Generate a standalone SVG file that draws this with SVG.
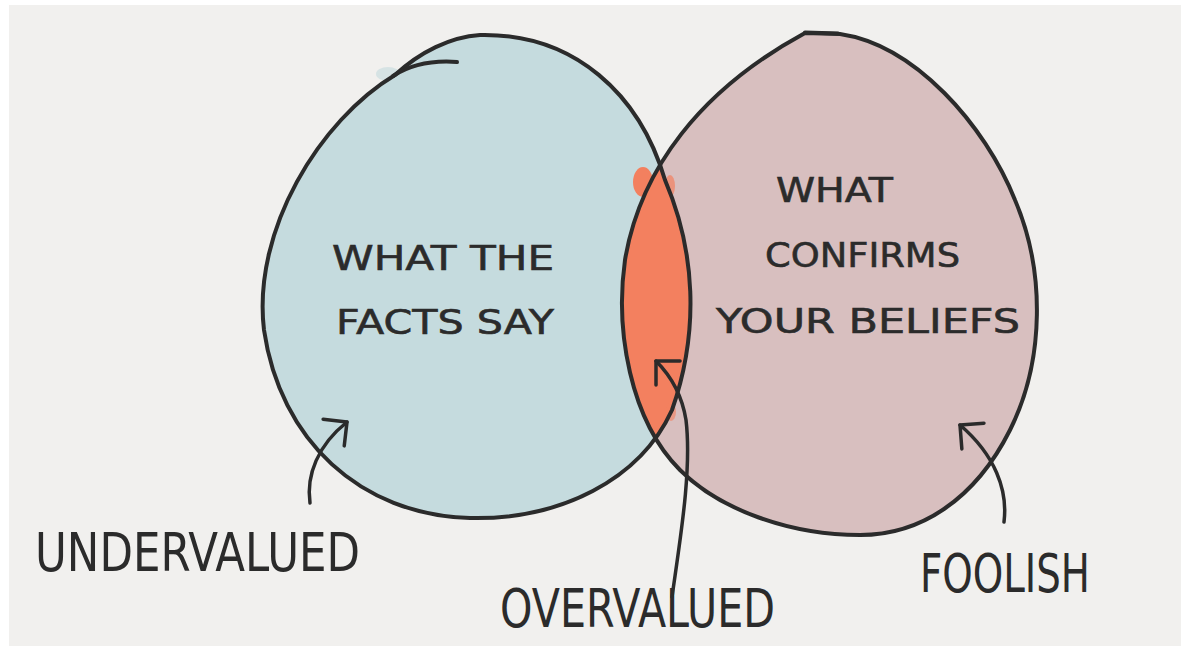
<svg xmlns="http://www.w3.org/2000/svg" width="1190" height="656" viewBox="0 0 1190 656">
<style>
  .outline { fill: none; stroke: #2b2b2b; stroke-width: 4; stroke-linecap: round; stroke-linejoin: round; }
  .arrow { fill: none; stroke: #2b2b2b; stroke-width: 3.5; stroke-linecap: round; marker-end: url(#head); }
  .inner { font-family: "DejaVu Sans", "Liberation Sans", sans-serif; fill: #2b2b2b; stroke: #2b2b2b; stroke-width: 0.6; font-size: 34px; }
  .label { font-family: "DejaVu Sans", "Liberation Sans", sans-serif; fill: #2b2b2b; font-size: 54px; }
</style>
<defs>
  <path id="leftBlob" d="M 480 35 C 575 33 640 95 665 180 C 695 250 700 330 672 410 C 640 480 560 520 470 518 C 360 515 280 440 264 330 C 252 230 320 120 395 75 C 420 52 450 37 480 35 Z"/>
  <path id="rightBlob" d="M 805 33 L 840 34 C 915 45 985 125 1015 200 C 1045 270 1045 360 1010 430 C 975 500 920 535 860 535 C 790 535 720 510 680 470 C 630 420 615 330 625 260 C 640 170 700 90 805 33 Z"/>
  <clipPath id="leftClip"><use href="#leftBlob"/></clipPath>
  <marker id="head" markerUnits="userSpaceOnUse" markerWidth="40" markerHeight="40" refX="0" refY="0" orient="auto" overflow="visible">
    <path d="M -17 -17 L 0 0 L -17 17" fill="none" stroke="#2b2b2b" stroke-width="3.5" stroke-linecap="round" stroke-linejoin="round"/>
  </marker>
</defs>
<rect x="0" y="0" width="1190" height="656" fill="#ffffff"/>
<rect x="9" y="5" width="1172" height="641" fill="#f1f0ee"/>

<g id="facts">
  <ellipse cx="388" cy="74" rx="12" ry="7" fill="#c5dbde" opacity="0.6"/>
  <use href="#leftBlob" fill="#c5dbde"/>
</g>
<g id="beliefs">
  <use href="#rightBlob" fill="#d8bfbf"/>
</g>
<g id="overlap">
  <use href="#rightBlob" fill="#f3805f" clip-path="url(#leftClip)"/>
  <ellipse cx="643" cy="182" rx="10" ry="15" fill="#f3805f"/>
  <ellipse cx="670" cy="186" rx="5" ry="11" fill="#f3805f" opacity="0.7"/>
  <ellipse cx="671" cy="412" rx="5" ry="9" fill="#f3805f" opacity="0.6"/>
</g>
<g id="outlines">
  <use href="#leftBlob" class="outline"/>
  <path class="outline" d="M 393 76 C 410 65 430 60 457 62"/>
  <use href="#rightBlob" class="outline"/>
  <path class="outline" d="M 805 32.5 L 838 33.5" stroke-width="5"/>
</g>

<g id="text-facts">
  <text class="inner" x="332" y="270" textLength="222" lengthAdjust="spacingAndGlyphs">WHAT THE</text>
  <text class="inner" x="336" y="334" textLength="218" lengthAdjust="spacingAndGlyphs">FACTS SAY</text>
</g>
<g id="text-beliefs">
  <text class="inner" x="776" y="202" textLength="117" lengthAdjust="spacingAndGlyphs">WHAT</text>
  <text class="inner" x="765" y="267" textLength="195" lengthAdjust="spacingAndGlyphs">CONFIRMS</text>
  <text class="inner" x="716" y="333" textLength="304" lengthAdjust="spacingAndGlyphs">YOUR BELIEFS</text>
</g>

<g id="connectors">
  <path class="arrow" d="M 310 503 C 306 475 318 445 347 422"/>
  <path class="arrow" d="M 672 597 C 680 540 692 470 686 420 C 682 395 670 375 656 361"/>
  <path class="arrow" d="M 1004 522 C 1008 490 995 455 960 425"/>
</g>

<g id="undervalued">
  <text class="label" x="35" y="571" textLength="325" lengthAdjust="spacingAndGlyphs">UNDERVALUED</text>
</g>
<g id="overvalued">
  <text class="label" x="500" y="627" textLength="275" lengthAdjust="spacingAndGlyphs">OVERVALUED</text>
</g>
<g id="foolish">
  <text class="label" x="920" y="592" textLength="170" lengthAdjust="spacingAndGlyphs">FOOLISH</text>
</g>
</svg>
